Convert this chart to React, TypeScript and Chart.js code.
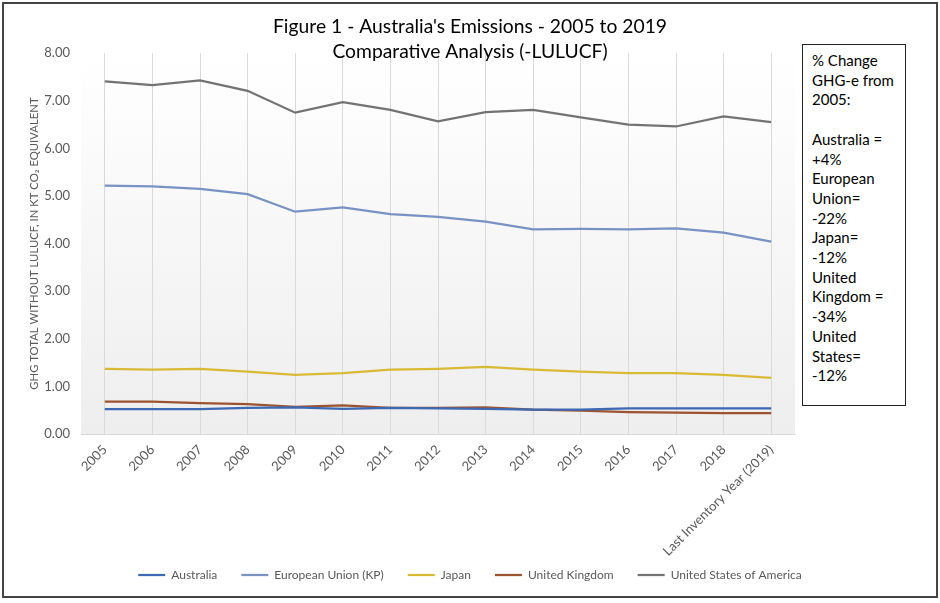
import React, { useEffect, useRef } from "react";
import { Chart, registerables } from "chart.js";

Chart.register(...registerables);

const categories = [
  "2005", "2006", "2007", "2008", "2009", "2010", "2011", "2012",
  "2013", "2014", "2015", "2016", "2017", "2018", "Last Inventory Year (2019)",
];

const australia = [0.52, 0.52, 0.52, 0.55, 0.56, 0.53, 0.55, 0.54, 0.53, 0.51, 0.51, 0.54, 0.54, 0.54, 0.54];
const europeanUnion = [5.22, 5.2, 5.15, 5.04, 4.67, 4.76, 4.62, 4.56, 4.46, 4.3, 4.31, 4.3, 4.32, 4.23, 4.04];
const japan = [1.37, 1.35, 1.37, 1.31, 1.24, 1.28, 1.35, 1.37, 1.41, 1.35, 1.31, 1.28, 1.28, 1.24, 1.18];
const unitedKingdom = [0.68, 0.68, 0.65, 0.63, 0.57, 0.6, 0.55, 0.55, 0.56, 0.51, 0.49, 0.46, 0.45, 0.44, 0.44];
const unitedStates = [7.41, 7.33, 7.43, 7.21, 6.75, 6.97, 6.81, 6.57, 6.76, 6.81, 6.65, 6.5, 6.46, 6.67, 6.55];

const titleLines = ["Figure 1 - Australia's Emissions - 2005 to 2019", "Comparative Analysis (-LULUCF)"];
const yAxisTitle = "GHG TOTAL WITHOUT LULUCF, IN KT CO\u2082 EQUIVALENT";
const noteLines = [
  "% Change", "GHG-e from", "2005:", "\u00a0", "Australia =", "+4%", "European", "Union=", "-22%",
  "Japan=", "-12%", "United", "Kingdom =", "-34%", "United", "States=", "-12%",
];

const FONT = "Lato, 'Open Sans', sans-serif";

export default function App() {
  const canvasRef = useRef<HTMLCanvasElement | null>(null);

  useEffect(() => {
    document.body.style.margin = "0";
    const canvas = canvasRef.current;
    if (!canvas) return;

    const bgPlugin = {
      id: "plotBg",
      afterLayout(chart: any) {
        const lg = chart.legend;
        if (lg) {
          lg.top -= 12;
          lg.bottom -= 12;
        }
      },
      beforeDraw(chart: any) {
        const { ctx, chartArea } = chart;
        if (!chartArea) return;
        const g = ctx.createLinearGradient(0, chartArea.top, 0, chartArea.bottom);
        g.addColorStop(0, "#ffffff");
        g.addColorStop(1, "#eeeeee");
        ctx.save();
        ctx.fillStyle = g;
        ctx.fillRect(chartArea.left, chartArea.top, chartArea.right - chartArea.left, chartArea.bottom - chartArea.top);
        ctx.restore();
      },
    };

    const mk = (label: string, data: number[], color: string) => ({
      label,
      data,
      borderColor: color,
      backgroundColor: color,
      borderWidth: 2.25,
      pointRadius: 0,
      tension: 0,
      fill: false,
      yAxisID: "y",
    });

    const chart = new Chart(canvas, {
      type: "line",
      data: {
        labels: categories,
        datasets: [
          mk("Australia", australia, "#3d68b3"),
          mk("European Union (KP)", europeanUnion, "#7892c4"),
          mk("Japan", japan, "#d9ba35"),
          mk("United Kingdom", unitedKingdom, "#9c5330"),
          mk("United States of America", unitedStates, "#737373"),
        ],
      },
      plugins: [bgPlugin],
      options: {
        animation: false,
        responsive: false,
        maintainAspectRatio: false,
        layout: { padding: { left: 0, right: 0, top: 14, bottom: 0 } },
        plugins: {
          title: {
            display: true,
            text: titleLines,
            color: "#000000",
            font: { family: FONT, size: 19.3, weight: "normal", lineHeight: 1.3 },
            padding: { top: 0, bottom: -11 },
            align: "center",
          },
          legend: {
            display: true,
            position: "bottom",
            labels: {
              usePointStyle: true,
              pointStyle: "line",
              pointStyleWidth: 27,
              boxWidth: 27,
              color: "#595959",
              font: { family: FONT, size: 12 },
              padding: 24,
            },
          },
          tooltip: { enabled: false },
        },
        scales: {
          x: {
            offset: true,
            grid: { display: true, color: "#d9d9d9", drawTicks: false, offset: false },
            border: { display: true, color: "#d9d9d9" },
            ticks: {
              color: "#595959",
              font: { family: FONT, size: 13 },
              maxRotation: 45,
              minRotation: 45,
              autoSkip: false,
              padding: 8,
            },
            afterFit(scale: any) {
              scale.height = 123;
            },
          },
          y: {
            min: 0,
            max: 8,
            grid: { display: false, drawTicks: false },
            border: { display: false },
            ticks: {
              stepSize: 1,
              color: "#595959",
              font: { family: FONT, size: 13 },
              padding: 11,
              callback: (v: any) => Number(v).toFixed(2),
            },
            title: {
              display: true,
              text: yAxisTitle,
              color: "#595959",
              font: { family: FONT, size: 11.3 },
              padding: { top: 28, bottom: 4 },
            },
            afterFit(scale: any) {
              scale.width = 81;
            },
          },
          side: {
            type: "linear",
            position: "right",
            display: true,
            min: 0,
            max: 8,
            grid: { display: false, drawTicks: false },
            border: { display: false },
            ticks: { display: false },
            afterFit(scale: any) {
              scale.width = 145;
            },
          },
        },
      },
    } as any);

    return () => chart.destroy();
  }, []);

  return (
    <div style={{ position: "relative", width: 940, height: 603, background: "#ffffff", overflow: "hidden" }}>
      <canvas ref={canvasRef} width={940} height={603} style={{ position: "absolute", left: 0, top: 0 }} />
      <div
        style={{
          position: "absolute",
          left: 2,
          top: 2,
          width: 932,
          height: 592,
          border: "2px solid #454545",
          pointerEvents: "none",
        }}
      />
      <div
        style={{
          position: "absolute",
          left: 802,
          top: 44,
          width: 102,
          height: 360,
          border: "1.5px solid #222222",
          background: "#ffffff",
          boxSizing: "content-box",
        }}
      >
        <div
          style={{
            position: "absolute",
            left: 9,
            top: 6,
            fontFamily: FONT,
            fontSize: 15,
            lineHeight: "19.7px",
            color: "#000000",
            whiteSpace: "nowrap",
          }}
        >
          {noteLines.map((l, i) => (
            <div key={i}>{l}</div>
          ))}
        </div>
      </div>
    </div>
  );
}
